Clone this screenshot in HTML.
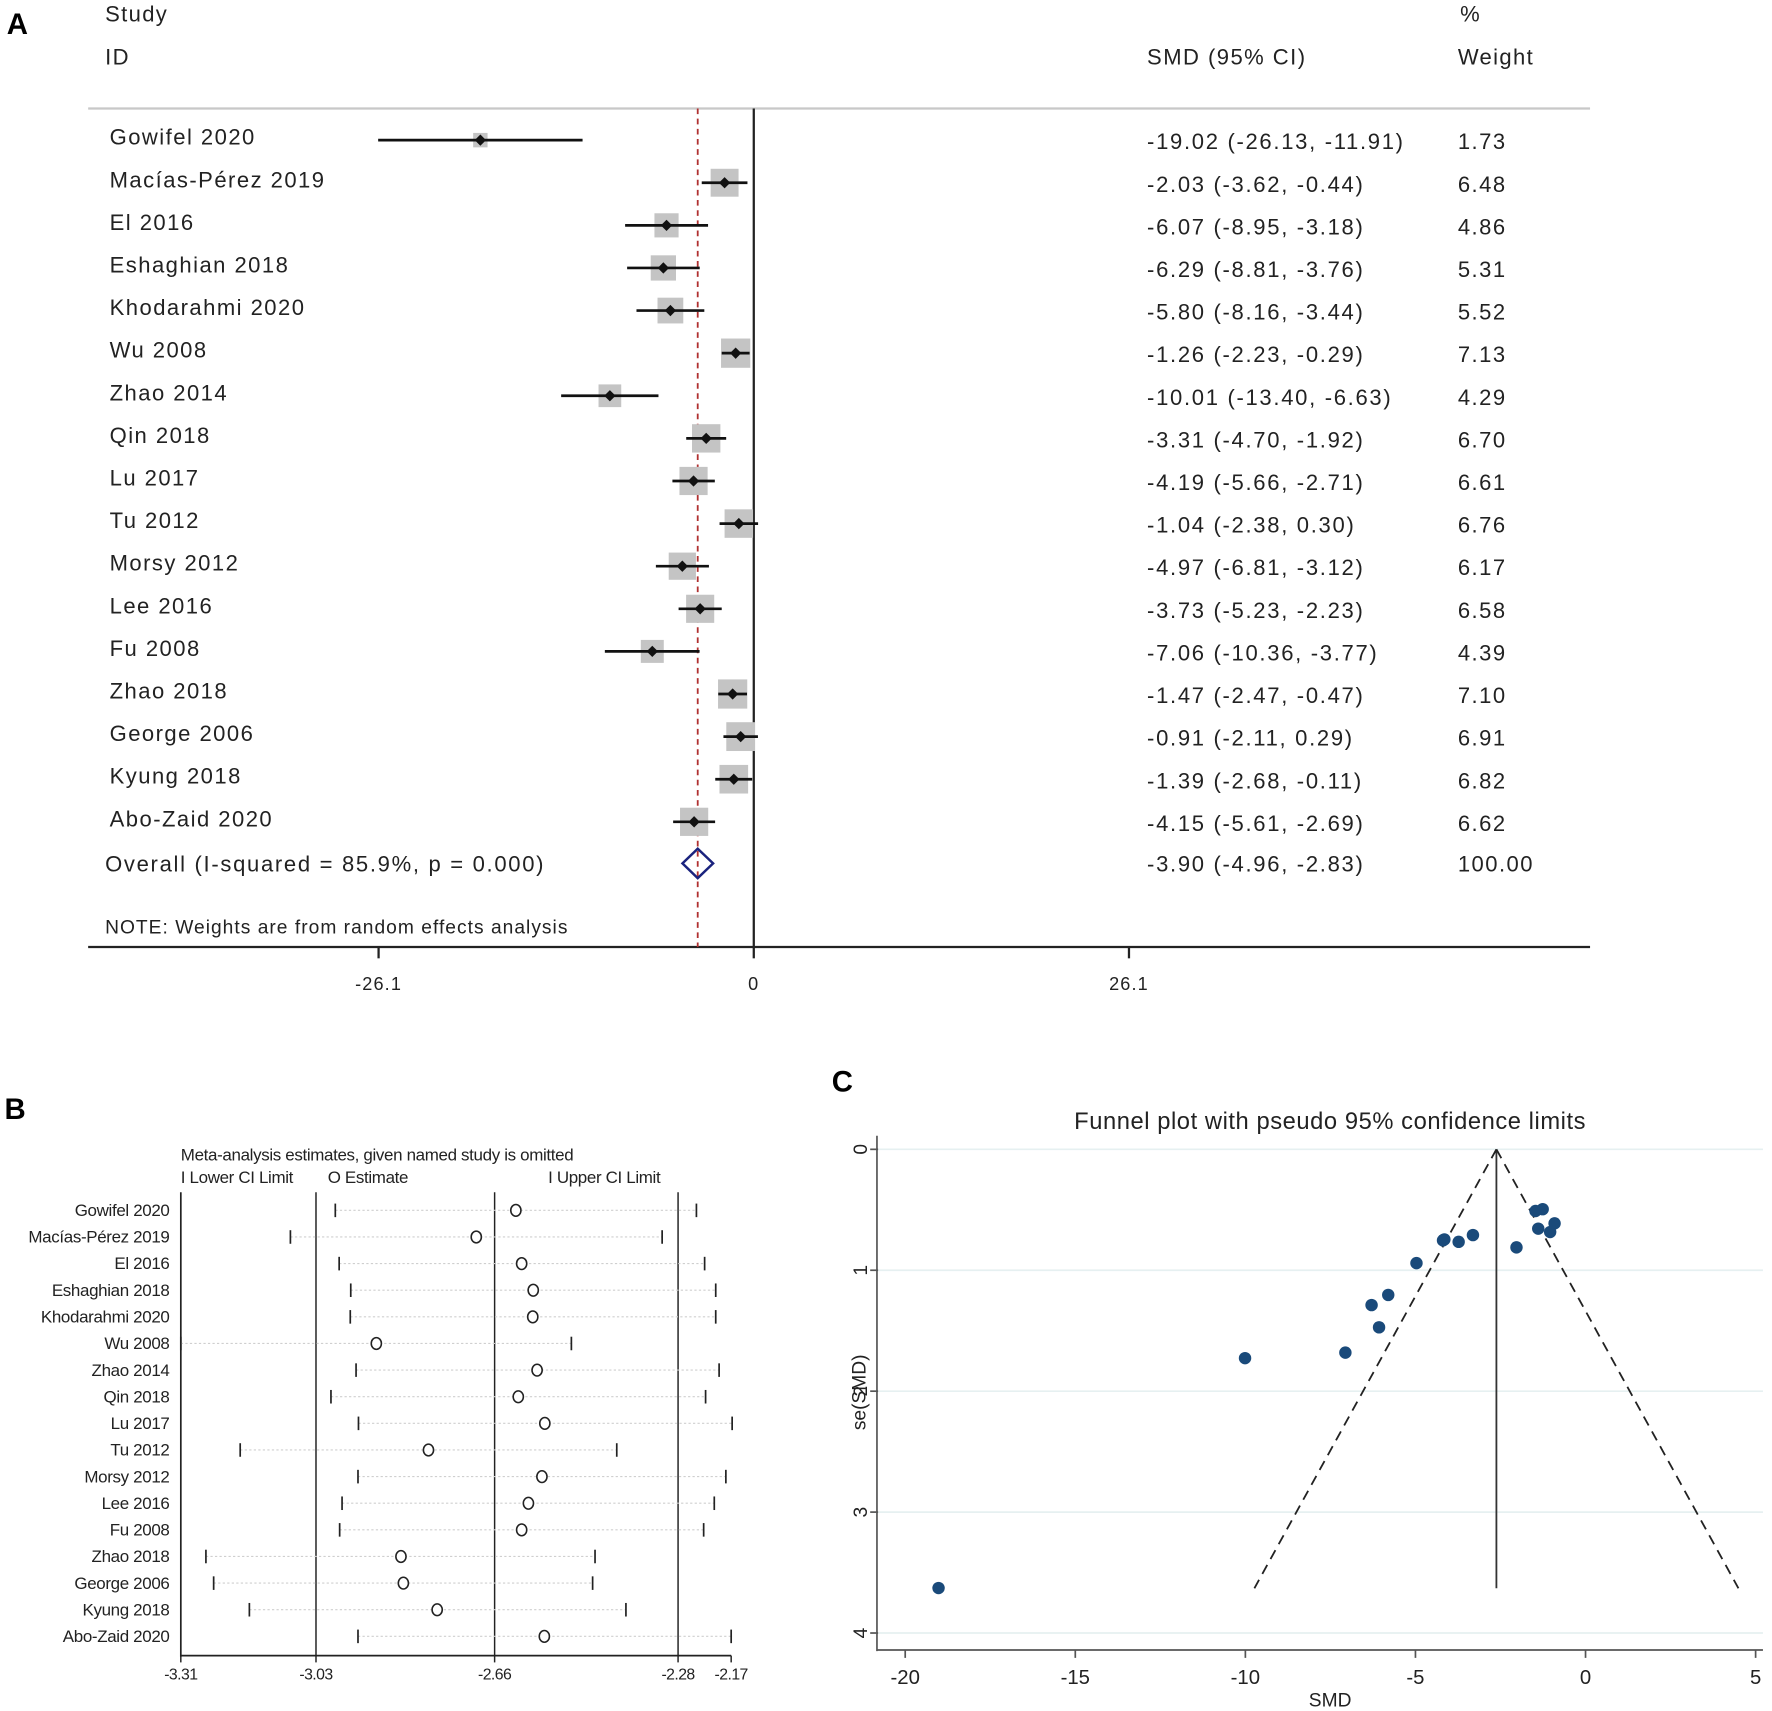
<!DOCTYPE html>
<html><head><meta charset="utf-8"><style>
html,body{margin:0;padding:0;background:#fff;}
svg{display:block;font-family:"Liberation Sans",Arial,sans-serif;}
</style></head><body>
<svg id="fig" width="1772" height="1711" viewBox="0 0 1568 1514" preserveAspectRatio="none" xmlns="http://www.w3.org/2000/svg">
<rect width="1568" height="1514" fill="#fff"/>
<g>
<text x="6" y="30" font-size="26" font-weight="bold">A</text>
<text x="93" y="19" font-size="19.5" letter-spacing="1.2" fill="#222">Study</text>
<text x="93" y="57" font-size="19.5" letter-spacing="1.2" fill="#222">ID</text>
<text x="1292" y="19" font-size="19.5" letter-spacing="1.2" fill="#222">%</text>
<text x="1015" y="57" font-size="19.5" letter-spacing="1.3" fill="#222">SMD (95% CI)</text>
<text x="1290" y="57" font-size="19.5" letter-spacing="1.2" fill="#222">Weight</text>
<line x1="78" y1="96" x2="1407" y2="96" stroke="#c8c8c8" stroke-width="2"/>
<line x1="78" y1="838" x2="1407" y2="838" stroke="#222" stroke-width="2"/>
<text x="93" y="826" font-size="17" letter-spacing="0.9" fill="#222">NOTE: Weights are from random effects analysis</text>
<g id="forest"></g>
</g>
<g>
<text x="4" y="990" font-size="26" font-weight="bold">B</text>
<text x="160" y="1027" font-size="15" letter-spacing="-0.3" fill="#222">Meta-analysis estimates, given named study is omitted</text>
<text x="160" y="1047" font-size="15" letter-spacing="-0.3" fill="#222">I Lower CI Limit</text>
<text x="290" y="1047" font-size="15" letter-spacing="-0.3" fill="#222">O Estimate</text>
<text x="485" y="1047" font-size="15" letter-spacing="-0.3" fill="#222">I Upper CI Limit</text>
<g id="influence"></g>
</g>
<g>
<text x="736" y="966" font-size="26" font-weight="bold">C</text>
<text x="1177" y="999" font-size="21" letter-spacing="0.5" text-anchor="middle" fill="#222">Funnel plot with pseudo 95% confidence limits</text>
<text x="1177" y="1510" font-size="17" text-anchor="middle" fill="#222">SMD</text>
<text x="0" y="0" font-size="17" text-anchor="middle" fill="#222" transform="translate(766,1232) rotate(-90)">se(SMD)</text>
<g id="funnel"></g>
</g>
</svg>
<script>
const NS="http://www.w3.org/2000/svg";
const studies=["Gowifel 2020","Macías-Pérez 2019","El  2016","Eshaghian 2018","Khodarahmi 2020","Wu 2008","Zhao 2014","Qin 2018","Lu 2017","Tu 2012","Morsy 2012","Lee 2016","Fu 2008","Zhao 2018","George 2006","Kyung 2018","Abo-Zaid 2020"];
const smd=[-19.02,-2.03,-6.07,-6.29,-5.80,-1.26,-10.01,-3.31,-4.19,-1.04,-4.97,-3.73,-7.06,-1.47,-0.91,-1.39,-4.15];
const lower=[-26.13,-3.62,-8.95,-8.81,-8.16,-2.23,-13.40,-4.70,-5.66,-2.38,-6.81,-5.23,-10.36,-2.47,-2.11,-2.68,-5.61];
const upper=[-11.91,-0.44,-3.18,-3.76,-3.44,-0.29,-6.63,-1.92,-2.71,0.30,-3.12,-2.23,-3.77,-0.47,0.29,-0.11,-2.69];
const weights=[1.73,6.48,4.86,5.31,5.52,7.13,4.29,6.70,6.61,6.76,6.17,6.58,4.39,7.10,6.91,6.82,6.62];
const overall=[-3.90,-4.96,-2.83];
const overallLabel="Overall  (I-squared = 85.9%, p = 0.000)";
const forestTicks=[-26.1,0,26.1];
const infLower=[-2.990,-3.083,-2.982,-2.958,-2.959,-3.310,-2.947,-2.999,-2.942,-3.187,-2.943,-2.976,-2.981,-3.258,-3.242,-3.168,-2.943];
const infEst=[-2.616,-2.698,-2.604,-2.580,-2.581,-2.905,-2.572,-2.611,-2.556,-2.797,-2.562,-2.590,-2.604,-2.854,-2.849,-2.779,-2.557];
const infUpper=[-2.242,-2.313,-2.225,-2.202,-2.202,-2.501,-2.195,-2.223,-2.168,-2.407,-2.181,-2.205,-2.227,-2.452,-2.457,-2.388,-2.170];
const infLabels=["Gowifel 2020","Macías-Pérez 2019","El  2016","Eshaghian 2018","Khodarahmi 2020","Wu 2008","Zhao 2014","Qin 2018","Lu 2017","Tu 2012","Morsy 2012","Lee 2016","Fu 2008","Zhao 2018","George 2006","Kyung 2018","Abo-Zaid 2020"];
const infTicks=[-3.31,-3.03,-2.66,-2.28,-2.17];
const infRefLines=[-3.03,-2.66,-2.28];
const funnelSe=[3.628,0.811,1.472,1.288,1.204,0.495,1.727,0.709,0.753,0.684,0.941,0.765,1.681,0.510,0.612,0.656,0.745];
const funnelCenter=-2.62;
const funnelMaxSe=3.63;
const funnelXTicks=[-20,-15,-10,-5,0,5];
const funnelYTicks=[0,1,2,3,4];

function el(tag,attrs,parent,text){const e=document.createElementNS(NS,tag);for(const k in attrs)e.setAttribute(k,attrs[k]);if(text!==undefined)e.textContent=text;parent.appendChild(e);return e;}
const fmt=v=>v.toFixed(2);

const F=document.getElementById('forest');
const fx=v=>667+v*(332/26.1);
const fy=i=>124+i*37.7;
let e=el('line',{x1:fx(0),y1:96,x2:fx(0),y2:838,stroke:'#222','stroke-width':2},F);


e=el('line',{x1:fx(overall[0]),y1:96,x2:fx(overall[0]),y2:838,stroke:'#b03030','stroke-width':1.6,'stroke-dasharray':'5,4'},F);


forestTicks.forEach(t=>{
  let l=el('line',{x1:fx(t),y1:838,x2:fx(t),y2:848,stroke:'#222','stroke-width':2},F);
  
  
  let tx=el('text',{x:fx(t),y:876,'font-size':16,'letter-spacing':1,'text-anchor':'middle',fill:'#222'},F,String(t));
  
  
});
studies.forEach((s,i)=>{
  const y=fy(i);
  let t=el('text',{x:97,y:y+4,'font-size':19.5,'letter-spacing':1.3,fill:'#222'},F,s);
  
  
  const side=9.7*Math.sqrt(weights[i]);
  let r=el('rect',{x:fx(smd[i])-side/2,y:y-side/2,width:side,height:side,fill:'#c4c4c4'},F);
  
  
  let l=el('line',{x1:fx(lower[i]),y1:y,x2:fx(upper[i]),y2:y,stroke:'#111','stroke-width':2.4},F);
  
  
  const cx=fx(smd[i]);
  let d=el('path',{d:`M${cx-5},${y} L${cx},${y-5} L${cx+5},${y} L${cx},${y+5} Z`,fill:'#111'},F);
  
  
  let v=el('text',{x:1015,y:y+8,'font-size':19.5,'letter-spacing':1.5,fill:'#222'},F,`${fmt(smd[i])} (${fmt(lower[i])}, ${fmt(upper[i])})`);
  
  
  let w=el('text',{x:1290,y:y+8,'font-size':19.5,'letter-spacing':1.3,fill:'#222'},F,fmt(weights[i]));
  
  
});
{
  const y=764;
  let t=el('text',{x:93,y:y+7,'font-size':19.5,'letter-spacing':1.5,fill:'#222'},F,overallLabel);
  
  
  const a=fx(overall[1]),b=fx(overall[2]),c=fx(overall[0]);
  let d=el('path',{d:`M${a},${y} L${c},${y-13} L${b},${y} L${c},${y+13} Z`,fill:'none',stroke:'#1a237e','stroke-width':2.2},F);
  
  
  let v=el('text',{x:1015,y:y+7,'font-size':19.5,'letter-spacing':1.5,fill:'#222'},F,`${fmt(overall[0])} (${fmt(overall[1])}, ${fmt(overall[2])})`);
  
  
  let w=el('text',{x:1290,y:y+7,'font-size':19.5,'letter-spacing':1.3,fill:'#222'},F,'100.00');
  
  
}

const B=document.getElementById('influence');
const bx=v=>160+(v-(-3.31))*(487/1.14);
const by=i=>1071+i*23.56;
e=el('line',{x1:160,y1:1055,x2:160,y2:1466,stroke:'#222','stroke-width':1.5},B);


e=el('line',{x1:160,y1:1465,x2:bx(-2.17),y2:1465,stroke:'#222','stroke-width':1.5},B);


infRefLines.forEach(v=>{
  let l=el('line',{x1:bx(v),y1:1055,x2:bx(v),y2:1465,stroke:'#222','stroke-width':1.3},B);
  
  
});
infTicks.forEach(t=>{
  let l=el('line',{x1:bx(t),y1:1465,x2:bx(t),y2:1471,stroke:'#222','stroke-width':1.3},B);
  
  
  let tx=el('text',{x:bx(t),y:1486,'font-size':14,'text-anchor':'middle','letter-spacing':'-0.5',fill:'#222'},B,t.toFixed(2));
  
  
});
infLabels.forEach((s,i)=>{
  const y=by(i);
  let t=el('text',{x:150,y:y+5,'font-size':15,'text-anchor':'end','letter-spacing':'-0.3',fill:'#222'},B,s);
  
  
  let l=el('line',{x1:bx(infLower[i]),y1:y,x2:bx(infUpper[i]),y2:y,stroke:'#cfcfcf','stroke-width':1,'stroke-dasharray':'2,2'},B);
  
  
  let lo=el('line',{x1:bx(infLower[i]),y1:y-6,x2:bx(infLower[i]),y2:y+6,stroke:'#222','stroke-width':1.5},B);
  
  
  let up=el('line',{x1:bx(infUpper[i]),y1:y-6,x2:bx(infUpper[i]),y2:y+6,stroke:'#222','stroke-width':1.5},B);
  
  
  let c=el('ellipse',{cx:bx(infEst[i]),cy:y,rx:4.5,ry:5.2,fill:'#fff',stroke:'#222','stroke-width':1.4},B);
  
  
});

const C=document.getElementById('funnel');
const cxs=v=>1403+v*30.1;
const cys=v=>1017+v*107;
funnelYTicks.forEach(t=>{
  let g=el('line',{x1:777,y1:cys(t),x2:1560,y2:cys(t),stroke:'#e6f0f1','stroke-width':1.5},C);
  
  
  let l=el('line',{x1:770,y1:cys(t),x2:777,y2:cys(t),stroke:'#555','stroke-width':1.5},C);
  
  
  let tx=el('text',{x:0,y:0,'font-size':17,'text-anchor':'middle',fill:'#222',transform:`translate(767,${cys(t)}) rotate(-90)`},C,String(t));
  
  
});
e=el('line',{x1:776,y1:1005,x2:776,y2:1461,stroke:'#555','stroke-width':1.5},C);


e=el('line',{x1:776,y1:1460,x2:1560,y2:1460,stroke:'#555','stroke-width':1.5},C);


funnelXTicks.forEach(t=>{
  let l=el('line',{x1:cxs(t),y1:1460,x2:cxs(t),y2:1467,stroke:'#555','stroke-width':1.5},C);
  
  
  let tx=el('text',{x:cxs(t),y:1490,'font-size':18,'text-anchor':'middle',fill:'#222'},C,String(t));
  
  
});
e=el('line',{x1:cxs(funnelCenter),y1:cys(0),x2:cxs(funnelCenter),y2:cys(funnelMaxSe),stroke:'#333','stroke-width':1.6},C);


[-1,1].forEach(s=>{
  let l=el('line',{x1:cxs(funnelCenter),y1:cys(0),x2:cxs(funnelCenter+s*1.96*funnelMaxSe),y2:cys(funnelMaxSe),stroke:'#222','stroke-width':1.6,'stroke-dasharray':'9,6'},C);
  
  
});
smd.forEach((v,i)=>{
  let p=el('circle',{cx:cxs(v),cy:cys(funnelSe[i]),r:5.5,fill:'#1a4a7a'},C);
  
  
});
</script>
</body></html>
